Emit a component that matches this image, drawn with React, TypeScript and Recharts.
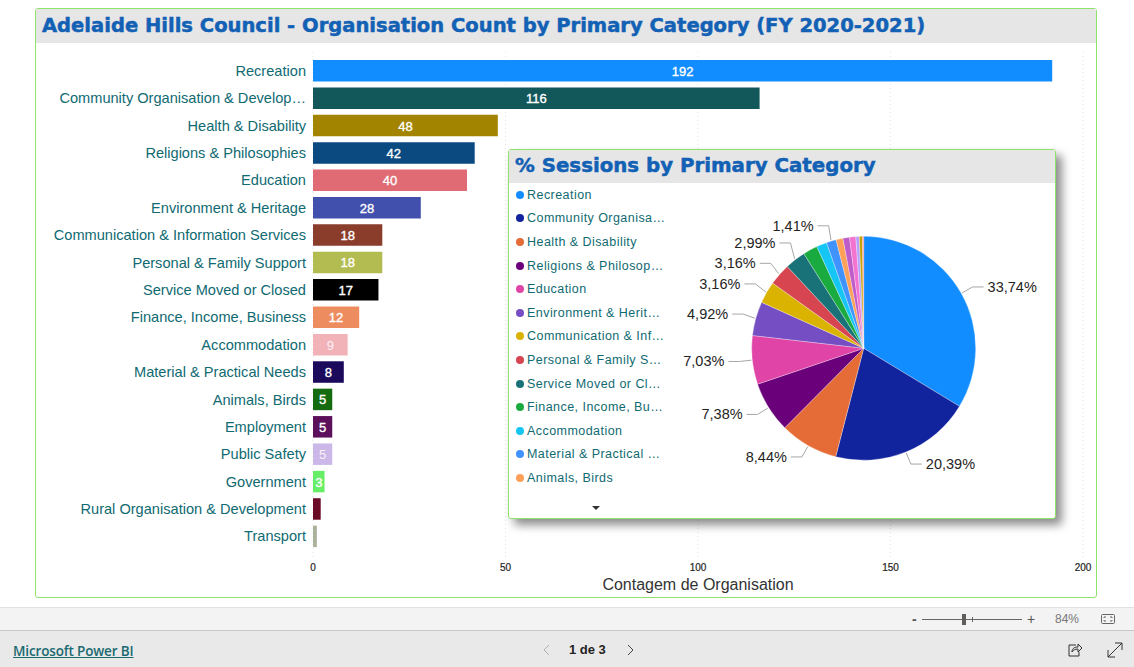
import { BarChart, Bar, XAxis, YAxis, CartesianGrid, Cell, LabelList, PieChart, Pie } from 'recharts';

const categories = [
  'Recreation', 'Community Organisation & Develop…', 'Health & Disability', 'Religions & Philosophies',
  'Education', 'Environment & Heritage', 'Communication & Information Services', 'Personal & Family Support',
  'Service Moved or Closed', 'Finance, Income, Business', 'Accommodation', 'Material & Practical Needs',
  'Animals, Birds', 'Employment', 'Public Safety', 'Government', 'Rural Organisation & Development', 'Transport',
];
const counts = [192, 116, 48, 42, 40, 28, 18, 18, 17, 12, 9, 8, 5, 5, 5, 3, 2, 1];
const barColors = [
  '#118DFF', '#12575A', '#A38400', '#0A4A80', '#E06B75', '#4250AD', '#8B3D2B', '#B3BC50', '#000000',
  '#ED8C5F', '#F1B3B8', '#1B0A5C', '#156B0F', '#5C105C', '#CBB8E8', '#66EE66', '#6B0A24', '#AAB29C',
];
const xTicks = [0, 50, 100, 150, 200];

const sessionShares = [33.74, 20.39, 8.44, 7.38, 7.03, 4.92, 3.16, 3.16, 2.99, 2.1, 1.5, 1.41, 1.0, 0.95, 0.9, 0.5, 0.45, 0.18];
const pieColors = [
  '#118DFF', '#12239E', '#E66C37', '#6B007B', '#E044A7', '#744EC2', '#D9B300', '#D64550', '#197278',
  '#1AAB40', '#15C6F4', '#4092FF', '#FFA058', '#BE5DC9', '#F472D0', '#B5A1FF', '#C4A200', '#FF8080',
];
const labelledSlices = [0, 1, 2, 3, 4, 5, 6, 7, 8, 11];
const legendNames = [
  'Recreation', 'Community Organisa…', 'Health & Disability', 'Religions & Philosop…', 'Education',
  'Environment & Herit…', 'Communication & Inf…', 'Personal & Family S…', 'Service Moved or Cl…',
  'Finance, Income, Bu…', 'Accommodation', 'Material & Practical …', 'Animals, Birds',
];

const barData = categories.map((name, i) => ({ name, count: counts[i] }));
const pieData = sessionShares.map((share, i) => ({ name: categories[i], share }));

const TEAL = '#0F6A72';
const SANS = '"Liberation Sans", Arial, sans-serif';
const TITLE_FONT = '"DejaVu Sans", Verdana, sans-serif';

// crowded labels on the upper left get pushed apart a little
const labelNudge: Record<number, [number, number]> = { 5: [0, -1], 6: [0, -2], 7: [1, -2.5], 8: [5, -4], 11: [2, 0] };

const SliceLabel = (props: any) => {
  const { cx, cy, midAngle, outerRadius, value, index } = props;
  if (!labelledSlices.includes(index)) return null;
  const rad = (-midAngle * Math.PI) / 180;
  const cos = Math.cos(rad);
  const sin = Math.sin(rad);
  const elbowR = outerRadius + (index === 8 || index === 11 ? 16 : 13);
  const [nx, ny] = labelNudge[index] ?? [0, 0];
  const x0 = cx + (outerRadius + 1) * cos;
  const y0 = cy + (outerRadius + 1) * sin;
  const x1 = cx + elbowR * cos + nx;
  const y1 = cy + elbowR * sin + ny;
  const dir = cos >= 0 ? 1 : -1;
  const x2 = x1 + dir * 11;
  return (
    <g>
      <polyline points={`${x0},${y0} ${x1},${y1} ${x2},${y1}`} fill="none" stroke="#A6A6A6" strokeWidth={1} />
      <text x={x2 + dir * 4} y={y1} dy={5} textAnchor={dir > 0 ? 'start' : 'end'} fontFamily={SANS} fontSize={14.5} fill="#252423">
        {value.toFixed(2).replace('.', ',')}%
      </text>
    </g>
  );
};

const BarLabel = (props: any) => {
  const { x, y, width, height, value, index } = props;
  if (value < 3) return null;
  return (
    <text x={x + width / 2} y={y + height / 2} dy={5} textAnchor="middle" fontFamily={SANS} fontSize={13}
      stroke={index === 10 || index === 14 ? 'none' : '#FFFFFF'} strokeWidth={0.35}
      fill={index === 10 || index === 14 ? '#FBEFF5' : '#FFFFFF'}>
      {value}
    </text>
  );
};

const Footer = () => (
  <>
    <div style={{ position: 'absolute', left: 0, top: 607, width: 1134, height: 23, background: '#F3F3F3', borderTop: '1px solid #E1E1E1', boxSizing: 'border-box' }} />
    <div style={{ position: 'absolute', left: 0, top: 630, width: 1134, height: 37, background: '#E9E9E9', borderTop: '1px solid #C8C8C8', boxSizing: 'border-box' }} />
    <div style={{ position: 'absolute', left: 912, top: 611, fontSize: 14, fontWeight: 700, color: '#555' }}>-</div>
    <div style={{ position: 'absolute', left: 922, top: 619, width: 100, height: 1, background: '#666' }} />
    <div style={{ position: 'absolute', left: 962, top: 614, width: 4, height: 11, background: '#605E5C' }} />
    <div style={{ position: 'absolute', left: 972, top: 617, width: 1, height: 5, background: '#666' }} />
    <div style={{ position: 'absolute', left: 1027, top: 611, fontSize: 14, color: '#555' }}>+</div>
    <div style={{ position: 'absolute', left: 1055, top: 612, fontSize: 12, color: '#777' }}>84%</div>
    <svg style={{ position: 'absolute', left: 1100, top: 613 }} width={16} height={13}>
      <rect x={1.5} y={1.5} width={13} height={9} rx={1} fill="none" stroke="#666" />
      <path d="M4 5V4h2M10 4h2v1M4 7v1h2M10 8h2V7" fill="none" stroke="#666" />
    </svg>
    <div style={{ position: 'absolute', left: 13, top: 642, fontSize: 13.5, fontWeight: 600, color: '#1A6A70', textDecoration: 'underline', fontFamily: '"Open Sans", sans-serif', letterSpacing: -0.15 }}>Microsoft Power BI</div>
    <svg style={{ position: 'absolute', left: 540, top: 643 }} width={100} height={14}>
      <path d="M9 2L4 7l5 5" fill="none" stroke="#B0B0B0" />
      <path d="M88 2l5 5-5 5" fill="none" stroke="#444" />
    </svg>
    <div style={{ position: 'absolute', left: 569, top: 642, fontSize: 13, fontWeight: 700, color: '#252423' }}>1 de 3</div>
    <svg style={{ position: 'absolute', left: 1066, top: 642 }} width={60} height={16}>
      <path d="M10 3H3v11h10v-4M6 10c0-4 3-5 6-5V2l4 4-4 4V7c-3 0-5 1-6 3z" fill="none" stroke="#333" />
      <path d="M42 15L56 1M49 1h7v7M42 8v7h7" fill="none" stroke="#333" />
    </svg>
  </>
);

export default function App() {
  return (
    <div style={{ position: 'absolute', left: 0, top: 0, width: 1134, height: 667, background: '#FFFFFF', fontFamily: SANS, overflow: 'hidden' }}>
      <div style={{ position: 'absolute', left: 35, top: 8, width: 1062, height: 590, border: '1px solid #8FE36A', borderRadius: 3, boxSizing: 'border-box' }}>
        <div style={{ height: 33.5, background: '#E6E6E6', color: '#1261B5', fontFamily: TITLE_FONT, fontWeight: 700, fontSize: 19.55, lineHeight: '33px', paddingLeft: 6, whiteSpace: 'nowrap', WebkitTextStroke: '0.5px #1261B5' }}>
          Adelaide Hills Council - Organisation Count by Primary Category (FY 2020-2021)
        </div>
      </div>

      <div style={{ position: 'absolute', left: 0, top: 0 }}>
        <BarChart width={1134} height={667} data={barData} layout="vertical" margin={{ top: 52, right: 51, bottom: 64, left: 0 }} barCategoryGap={0}>
          <CartesianGrid horizontal={false} stroke="#E3E3E3" strokeDasharray="1 3" />
          <XAxis type="number" domain={[0, 200]} ticks={xTicks} tickLine={false} axisLine={false} height={45}
            tick={{ fontSize: 10, fill: '#252423', stroke: '#252423', strokeWidth: 0.2, fontFamily: SANS }} tickMargin={0}
            label={{ value: 'Contagem de Organisation', position: 'insideBottom', offset: 13, fontSize: 16, fill: '#333333', fontFamily: SANS }} />
          <YAxis type="category" dataKey="name" width={313} interval={0} tickLine={false} axisLine={false} tickMargin={1}
            padding={{ top: 5, bottom: 8 }} tick={{ fontSize: 14.6, fill: TEAL, fontFamily: SANS }} />
          <Bar dataKey="count" barSize={21.5} isAnimationActive={false}>
            {barData.map((d, i) => <Cell key={d.name} fill={barColors[i]} />)}
            <LabelList dataKey="count" content={BarLabel} />
          </Bar>
        </BarChart>
      </div>

      <div style={{ position: 'absolute', left: 508, top: 149, width: 548, height: 370, background: '#FFFFFF', border: '1px solid #8FE36A', borderRadius: 3, boxSizing: 'border-box', boxShadow: '6px 6px 10px rgba(0,0,0,0.45)' }}>
        <div style={{ height: 33, background: '#E6E6E6', color: '#1261B5', fontFamily: TITLE_FONT, fontWeight: 700, fontSize: 19.8, lineHeight: '31px', paddingLeft: 6, whiteSpace: 'nowrap', WebkitTextStroke: '0.5px #1261B5' }}>
          % Sessions by Primary Category
        </div>
        <div style={{ position: 'absolute', left: 0, top: 33 }}>
          <PieChart width={546} height={335} margin={{ top: 0, right: 0, bottom: 0, left: 0 }}>
            <Pie data={pieData} dataKey="share" nameKey="name" cx={354.7} cy={165.3} outerRadius={112} startAngle={90} endAngle={-270}
              stroke="#FFFFFF" strokeWidth={0.3} label={SliceLabel} labelLine={false} isAnimationActive={false}>
              {pieData.map((d, i) => <Cell key={d.name} fill={pieColors[i]} />)}
            </Pie>
          </PieChart>
        </div>
        <div style={{ position: 'absolute', left: 7, top: 33 }}>
          {legendNames.map((name, i) => (
            <div key={name} style={{ display: 'flex', alignItems: 'center', height: 23.6, fontSize: 12.5, color: TEAL, whiteSpace: 'nowrap', letterSpacing: 0.45 }}>
              <span style={{ width: 8, height: 8, borderRadius: 4, background: pieColors[i], marginRight: 3 }} />
              {name}
            </div>
          ))}
        </div>
        <div style={{ position: 'absolute', left: 83, top: 356, width: 0, height: 0, borderLeft: '4px solid transparent', borderRight: '4px solid transparent', borderTop: '4px solid #333' }} />
      </div>

      <Footer />
    </div>
  );
}
